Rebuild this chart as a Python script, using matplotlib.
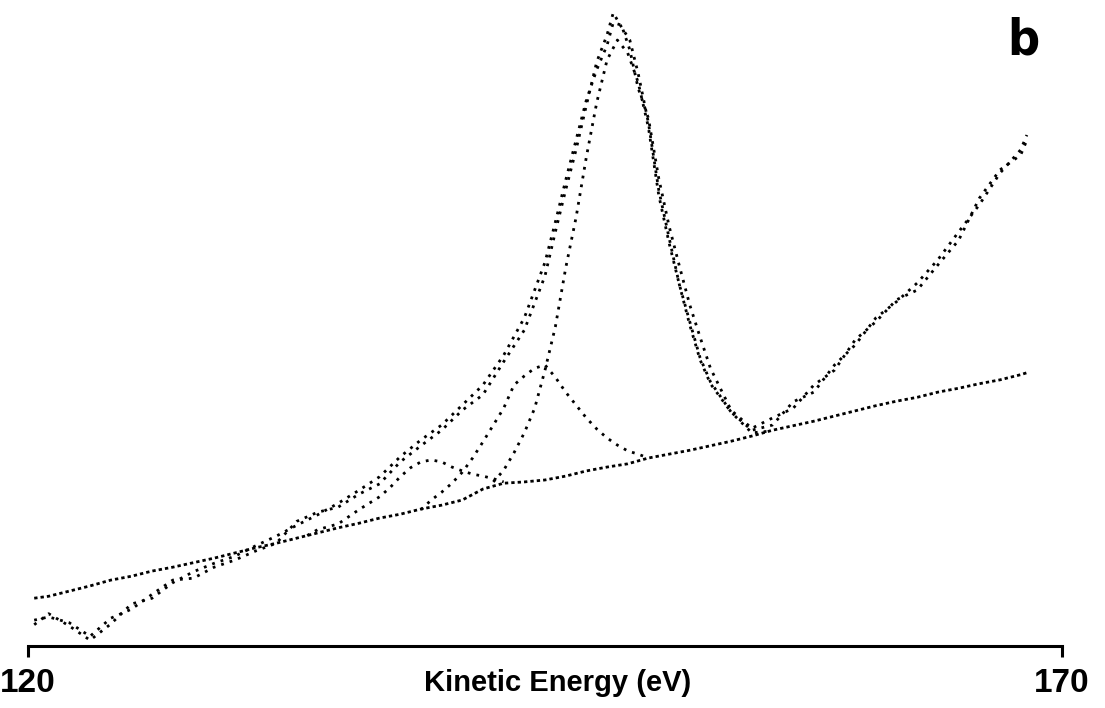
import numpy as np
import matplotlib.pyplot as plt

# energies (eV) and intensities (a.u., 0-100 of the plot height)
bg_e = [120.3, 121, 122, 123, 124, 125, 126, 127, 128, 129, 130, 131, 132, 133, 134,
        135, 136, 137, 138, 139, 140, 141, 142, 143, 144, 145, 146, 147, 148, 149, 150,
        151, 152, 153, 154, 155, 156, 157, 158, 159, 160, 161, 162, 163, 164, 165, 166,
        167, 168, 168.3]
bg_i = [7.4, 7.7, 8.5, 9.3, 10.2, 10.8, 11.6, 12.2, 12.9, 13.6, 14.4, 15.2, 15.9, 16.7, 17.5,
        18.3, 19.0, 19.8, 20.4, 21.2, 21.8, 22.6, 24.3, 25.2, 25.4, 25.7, 26.3, 27.1, 27.7, 28.2, 29.1,
        29.7, 30.3, 31.0, 31.7, 32.5, 33.4, 34.1, 34.8, 35.6, 36.4, 37.2, 37.9, 38.5, 39.3, 39.9, 40.6,
        41.2, 42.0, 42.3]

# measured spectrum and total fit
tot_e = [120.3, 121, 122, 123, 124, 125, 126, 127, 128, 129, 130, 131, 132, 133, 134, 135,
         136, 137, 138, 139, 140, 141, 142, 143, 144, 145, 145.5, 146, 146.5, 147, 147.5,
         148, 148.3, 148.7, 149.1, 149.5, 150, 150.5, 151, 151.5, 152, 152.5, 153, 154, 155,
         156, 157, 158, 159, 160, 161, 162, 163, 164, 165, 166, 167, 168, 168.3]
exp_i = [4.0, 4.5, 3.6, 1.5, 4.3, 5.7, 8.0, 10.2, 10.5, 12.2, 13.3, 14.7, 15.9, 19.3, 20.7, 21.5,
         23.5, 25.1, 28.5, 31.0, 33.4, 36.5, 38.9, 44.0, 48.9, 57.3, 64.1, 70.6, 76.8, 83.7, 90.4,
         94.6, 98.0, 95.8, 93.8, 88.7, 81.0, 70.6, 63.2, 55.9, 49.7, 44.3, 40.6, 36.2, 33.4,
         34.2, 37.8, 39.3, 43.5, 46.6, 50.8, 53.3, 56.2, 59.8, 64.1, 68.3, 73.2, 76.8, 79.1]
fit_i = [3.3, 5.0, 3.1, 0.9, 3.4, 6.5, 7.4, 9.8, 11.5, 12.8, 13.9, 15.5, 17.0, 18.7, 20.3, 22.1,
         24.1, 26.2, 29.3, 31.9, 34.2, 37.3, 40.4, 45.0, 50.8, 59.4, 65.6, 72.1, 78.3, 84.5, 89.2,
         93.0, 96.5, 96.1, 92.3, 86.4, 81.7, 72.4, 65.0, 58.8, 52.8, 47.8, 43.0, 36.5, 33.7,
         35.3, 36.8, 40.4, 42.7, 47.4, 50.2, 53.6, 55.1, 59.0, 62.8, 69.3, 73.7, 76.0, 78.3]

# main narrow component
pk1_e = [142.5, 143, 143.5, 144, 144.5, 145, 145.5, 146, 146.5, 147, 147.5, 148, 148.5,
         149, 149.5, 150, 150.5, 151, 151.5, 152, 152.5, 153, 154, 155, 156]
pk1_i = [25.4, 27.2, 29.9, 33.0, 36.8, 42.7, 49.4, 58.5, 66.3, 75.7, 84.1, 90.7, 93.8,
         91.8, 87.3, 80.3, 69.8, 62.4, 55.9, 50.2, 44.6, 40.9, 36.2, 33.0, 33.3]

# shoulder component
pk2_e = [139, 139.5, 140, 140.5, 141, 141.5, 142, 142.5, 143, 143.5, 144, 144.5, 145,
         145.5, 146, 146.5, 147, 147.5, 148, 148.5, 149, 149.5, 150]
pk2_i = [21.1, 22.6, 23.8, 25.2, 26.9, 29.1, 31.6, 34.2, 36.8, 40.4, 41.8, 43.0, 43.5,
         41.6, 39.3, 37.3, 35.3, 33.6, 32.2, 31.1, 30.2, 29.7, 29.1]

# small low-energy component
pk3_e = [133.5, 134, 135, 136, 137, 137.5, 138, 138.5, 139, 139.5, 140, 140.5, 141,
         141.5, 142, 142.5, 143]
pk3_i = [17.1, 18.0, 18.9, 21.1, 23.1, 24.5, 26.2, 27.6, 28.5, 28.8, 28.5, 27.7, 27.1,
         26.6, 26.3, 25.9, 25.4]

fig = plt.figure(figsize=(11.05, 7.08), dpi=100)
ax = fig.add_axes([28 / 1105, 1 - 646 / 708, 1034 / 1105, 646 / 708])

# baseline drawn as close short dashes, the rest as sparser dots
ax.plot(bg_e, bg_i, color='black', lw=2.0, linestyle=(0, (1.2, 1.1)))
for e, i in [(tot_e, exp_i), (tot_e, fit_i), (pk1_e, pk1_i), (pk2_e, pk2_i), (pk3_e, pk3_i)]:
    ax.plot(e, i, color='black', lw=2.0, linestyle=(0, (1.0, 2.2)))

ax.set_xlim(120, 170)
ax.set_ylim(0, 100)
for s in ['top', 'left', 'right']:
    ax.spines[s].set_visible(False)
ax.spines['bottom'].set_linewidth(2.2)
ax.set_yticks([])
ax.set_xticks([120, 170])
ax.set_xticklabels(['120', '170'], fontweight='bold', family=['Liberation Sans', 'DejaVu Sans'])
ax.tick_params(axis='x', direction='out', length=8, width=2.2, pad=8, labelsize=24)

ax.text(0.512, -0.058, 'Kinetic Energy (eV)', transform=ax.transAxes, ha='center', va='center',
        fontsize=21, fontweight='bold', family=['Liberation Sans', 'DejaVu Sans'])
ax.text(0.963, 0.937, 'b', transform=ax.transAxes, ha='center', va='center',
        fontsize=36, fontweight='bold', fontstretch='condensed',
        family=['DejaVu Sans', 'Liberation Sans'])

plt.savefig('out.png', dpi=100)
